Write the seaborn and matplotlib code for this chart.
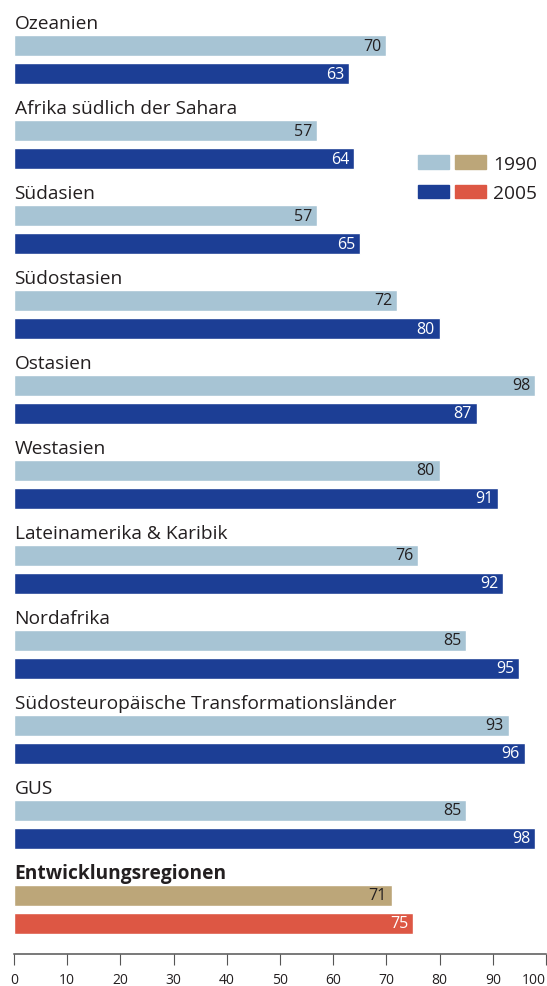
import pandas as pd
import matplotlib.pyplot as plt
import seaborn as sns
from matplotlib.patches import Patch
from matplotlib.legend_handler import HandlerTuple

# Daten
regionen = ["Ozeanien", "Afrika südlich der Sahara", "Südasien", "Südostasien",
            "Ostasien", "Westasien", "Lateinamerika & Karibik", "Nordafrika",
            "Südosteuropäische Transformationsländer", "GUS", "Entwicklungsregionen"]
werte_1990 = [70, 57, 57, 72, 98, 80, 76, 85, 93, 85, 71]
werte_2005 = [63, 64, 65, 80, 87, 91, 92, 95, 96, 98, 75]
jahre = ["1990", "2005"]

hellblau = "#A7C4D4"
dunkelblau = "#1C3E95"
beige = "#BCA679"
rot = "#DD5744"
textfarbe = "#231F20"

df = pd.DataFrame({
    "region": regionen * 2,
    "jahr": [jahre[0]] * len(regionen) + [jahre[1]] * len(regionen),
    "wert": werte_1990 + werte_2005,
})

sns.set_theme(style="white")
plt.rcParams["font.family"] = ["Open Sans", "DejaVu Sans"]

fig = plt.figure(figsize=(5.47, 9.87), dpi=100)
ax = fig.add_axes([14 / 547, 32 / 987, 532 / 547, 955 / 987])

sns.barplot(data=df, y="region", x="wert", hue="jahr", orient="h",
            palette=[hellblau, dunkelblau], width=0.659, gap=0.25,
            legend=False, ax=ax, saturation=1)

# letzte Gruppe anders einfärben
ax.containers[0][-1].set_facecolor(beige)
ax.containers[1][-1].set_facecolor(rot)

for i, cont in enumerate(ax.containers):
    farbe = textfarbe if i == 0 else "white"
    texte = ax.bar_label(cont, padding=-3.5, fontsize=11.5, color=farbe)
    for t in texte:
        t.set_ha("right")

for i, name in enumerate(regionen):
    ax.text(0.1, i - 0.37, name, fontsize=13.8, color=textfarbe, va="baseline",
            ha="left", fontweight="bold" if i == len(regionen) - 1 else "normal")

ax.set_xlim(0, 100)
ax.set_ylim(10.524, -0.712)
ax.set_xticks(range(0, 101, 10))
ax.set_yticks([])
ax.set_xlabel("")
ax.set_ylabel("")
for s in ["top", "right", "left"]:
    ax.spines[s].set_visible(False)
ax.spines["bottom"].set_color("#555555")
ax.spines["bottom"].set_linewidth(1.1)
ax.tick_params(axis="x", bottom=True, length=8, width=0.8, color="#555555",
               pad=5, labelsize=10, labelcolor=textfarbe)
ax.get_xticklabels()[-1].set_ha("right")

handles = [(Patch(color=hellblau), Patch(color=beige)),
           (Patch(color=dunkelblau), Patch(color=rot))]
ax.legend(handles, jahre, handler_map={tuple: HandlerTuple(ndivide=None, pad=0.3)},
          loc="upper left", bbox_to_anchor=(0.76, 0.837), frameon=False,
          fontsize=13.8, handlelength=3.55, handleheight=0.68, labelspacing=0.6,
          handletextpad=0.35, borderaxespad=0, borderpad=0, labelcolor=textfarbe)

fig.savefig("out.png", dpi=100)
